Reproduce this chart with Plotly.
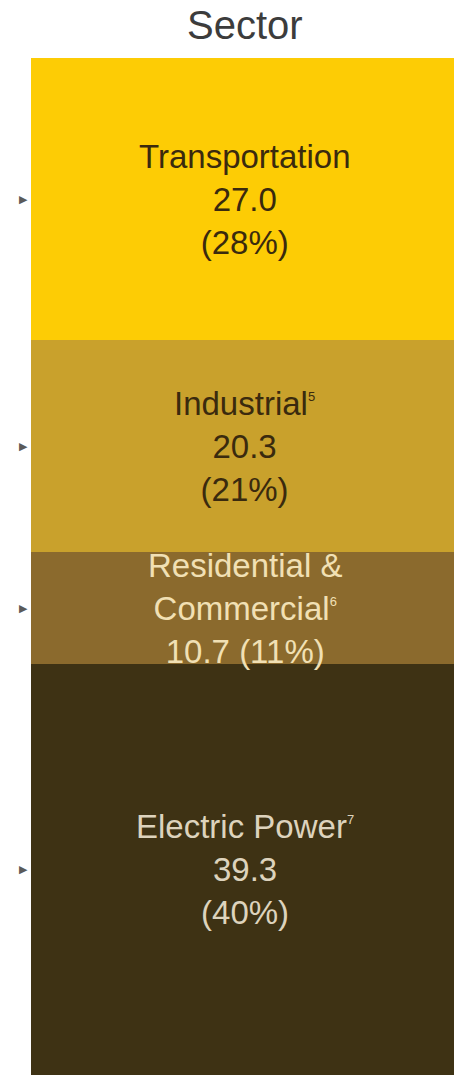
import plotly.graph_objects as go

# Sector breakdown, stacked from the bottom up
sectors = ["Electric Power", "Residential &<br>Commercial", "Industrial", "Transportation"]
footnotes = ["7", "6", "5", ""]
values = [39.3, 10.7, 20.3, 27.0]
shares = [40, 11, 21, 28]
colors = ["#3e3214", "#8b6a2d", "#c9a12c", "#fdcc05"]
text_colors = ["#ddd3bd", "#f1e0b4", "#3a2a0e", "#3a2a0e"]

total = sum(values)
FONT = "Liberation Sans, Arial, Helvetica, sans-serif"

fig = go.Figure()

bases = []
running = 0.0
for name, val, col in zip(sectors, values, colors):
    bases.append(running)
    fig.add_trace(go.Bar(
        x=[0], y=[val], base=[running], width=1.0,
        marker=dict(color=col, line=dict(width=0)),
        hoverinfo="skip", showlegend=False,
    ))
    running += val

mids = [b + v / 2 for b, v in zip(bases, values)]

# small pointer markers on the left edge of each segment
for m in mids:
    fig.add_annotation(
        x=0, y=m, xref="paper", yref="y", xanchor="right", yanchor="middle",
        xshift=-1, text="▶", showarrow=False,
        font=dict(family="DejaVu Sans", size=11, color="#5a5a5a"),
    )

for name, note, val, pct, tc, m in zip(sectors, footnotes, values, shares, text_colors, mids):
    label = name + (f"<sup><span style='font-size:13px'>{note}</span></sup>" if note else "")
    if "<br>" in name:
        txt = f"{label}<br>{val:.1f} ({pct}%)"
    else:
        txt = f"{label}<br>{val:.1f}<br>({pct}%)"
    fig.add_annotation(
        x=0.005, y=m, xref="x", yref="y", text=txt, showarrow=False,
        font=dict(family=FONT, size=33, color=tc),
        align="center", xanchor="center", yanchor="middle",
    )

fig.add_annotation(
    x=0.506, y=1.0, xref="paper", yref="paper", yshift=33,
    text="Sector", showarrow=False, yanchor="middle",
    font=dict(family=FONT, size=40, color="#3c3c3c"),
)

fig.update_layout(
    width=454, height=1077,
    margin=dict(l=31, r=0, t=58, b=2),
    paper_bgcolor="white", plot_bgcolor="white",
    barmode="overlay", bargap=0,
    xaxis=dict(range=[-0.5, 0.5], visible=False, fixedrange=True),
    yaxis=dict(range=[0, total], visible=False, fixedrange=True),
)

fig.write_html("out.html", config={"displayModeBar": False})
